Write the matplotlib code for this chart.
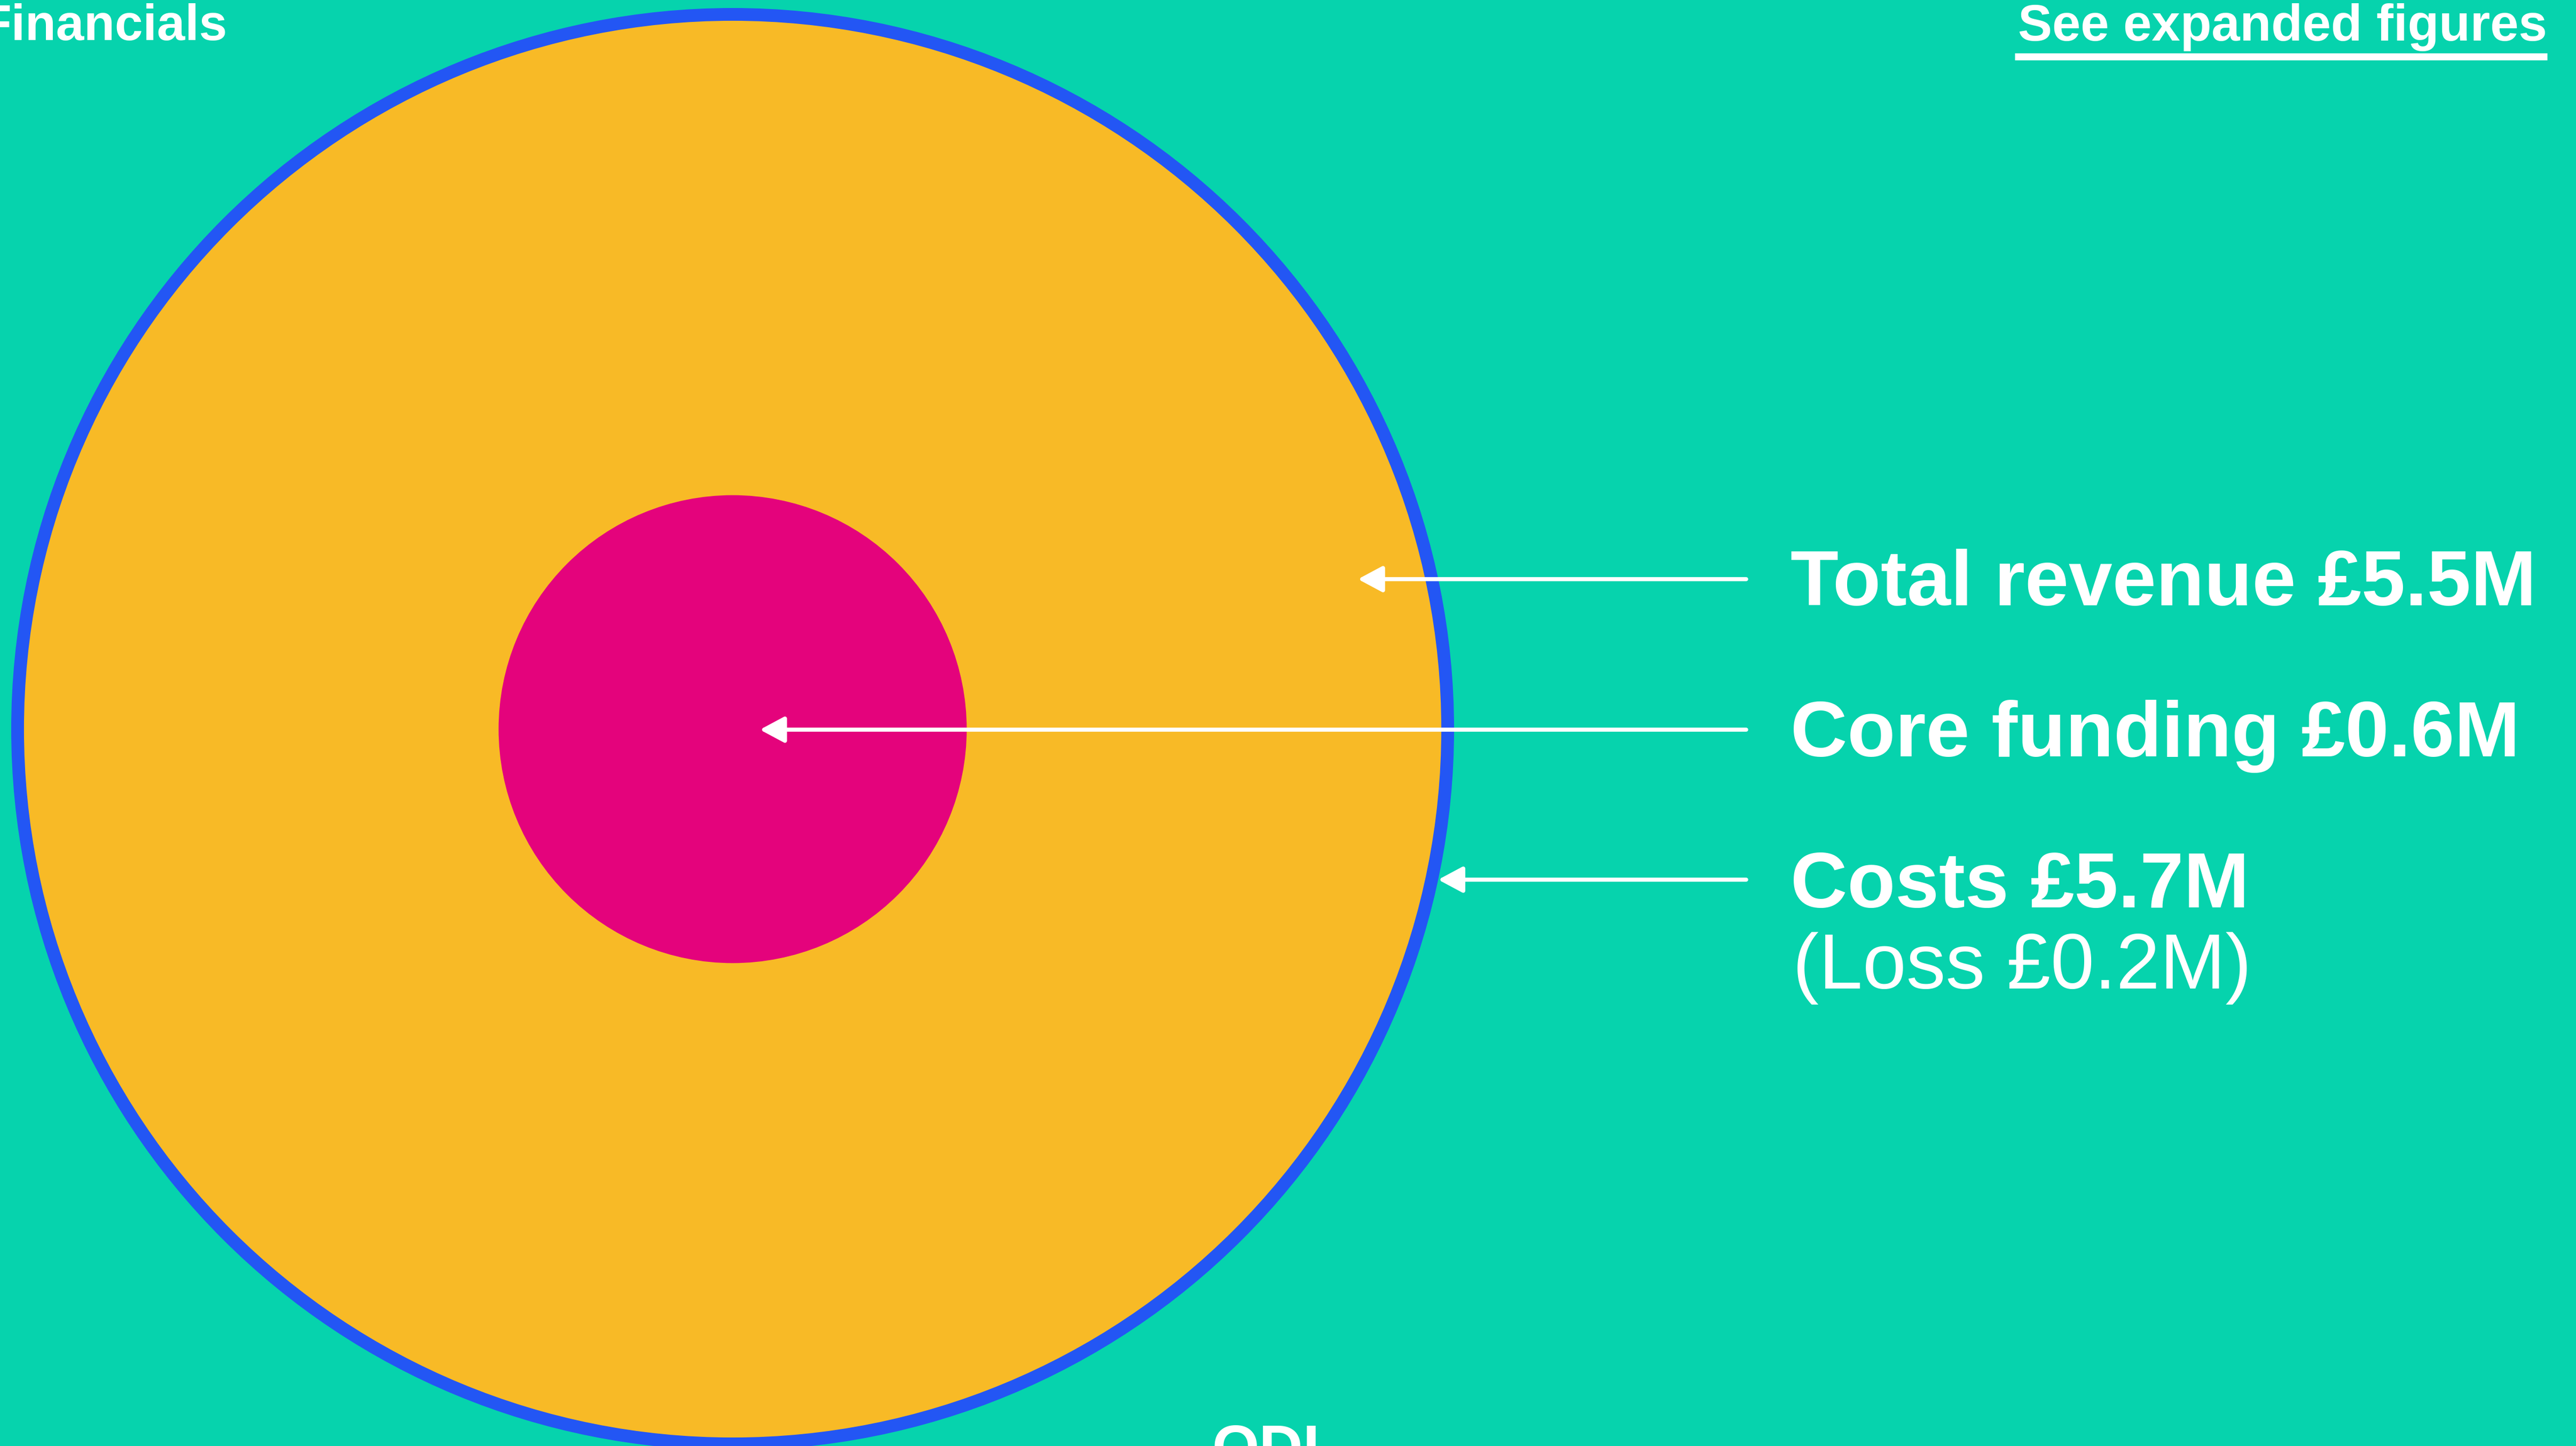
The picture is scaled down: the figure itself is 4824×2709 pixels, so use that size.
import numpy as np
import matplotlib
matplotlib.use('Agg')
import matplotlib.pyplot as plt
from matplotlib.patches import Circle

# values in £M
costs = 5.7
revenue = 5.5
core_funding = 0.6
loss = revenue - costs

labels = ['Total revenue £%.1fM' % revenue,
          'Core funding £%.1fM' % core_funding,
          'Costs £%.1fM' % costs]
sublabel = '(Loss £%.1fM)' % abs(loss)

#_____________________________________________________________________________
# colours / layout

bg = '#06D3AD'
c_costs = '#2356F4'
c_rev = '#F8BA26'
c_core = '#E4037C'

W, H = 4824, 2709
cx, cy = 1372, 1366
k = 1351 / np.sqrt(costs)   # px per sqrt(£M)

plt.rcParams['font.family'] = ['Liberation Sans', 'DejaVu Sans']

fig = plt.figure(figsize=(W / 100, H / 100), dpi=100, facecolor=bg)
ax = fig.add_axes([0, 0, 1, 1])
ax.set_xlim(0, W)
ax.set_ylim(H, 0)
ax.set_aspect('equal')
ax.axis('off')
ax.set_facecolor(bg)

for val, col in [(costs, c_costs), (revenue, c_rev), (core_funding, c_core)]:
    ax.add_patch(Circle((cx, cy), k * np.sqrt(val), facecolor=col, edgecolor='none'))

#_____________________________________________________________________________
# arrows + labels

arrow_y = [1085, 1367, 1648]
tips = [2543, 1423, cx + np.sqrt((k * np.sqrt(costs))**2 - (1648 - cy)**2)]
tail_x = 3270
text_x = 3353
base_y = [1134, 1417, 1700]

for y, tx in zip(arrow_y, tips):
    ax.annotate('', xy=(tx, y), xytext=(tail_x, y),
                arrowprops=dict(arrowstyle='-|>,head_length=28,head_width=15',
                                mutation_scale=1, color='white', lw=5.5,
                                shrinkA=0, shrinkB=0))

for lab, y in zip(labels, base_y):
    ax.text(text_x, y, lab, color='white', fontsize=106, fontweight='bold',
            ha='left', va='baseline')
ax.text(text_x + 4, 1852, sublabel, color='white', fontsize=106,
        ha='left', va='baseline')

# header / footer bits
ax.text(-36, 75, 'Financials', color='white', fontsize=68, fontweight='bold',
        ha='left', va='baseline')
ax.text(4770, 76, 'See expanded figures', color='white', fontsize=69,
        fontweight='bold', ha='right', va='baseline')
ax.plot([3773, 4770], [106, 106], color='white', lw=9.5, solid_capstyle='butt')
ax.text(2371, 2749, 'ODI', color='white', fontsize=82, fontweight='heavy',
        ha='center', va='baseline')

fig.savefig('out.png', dpi=100, facecolor=bg)
